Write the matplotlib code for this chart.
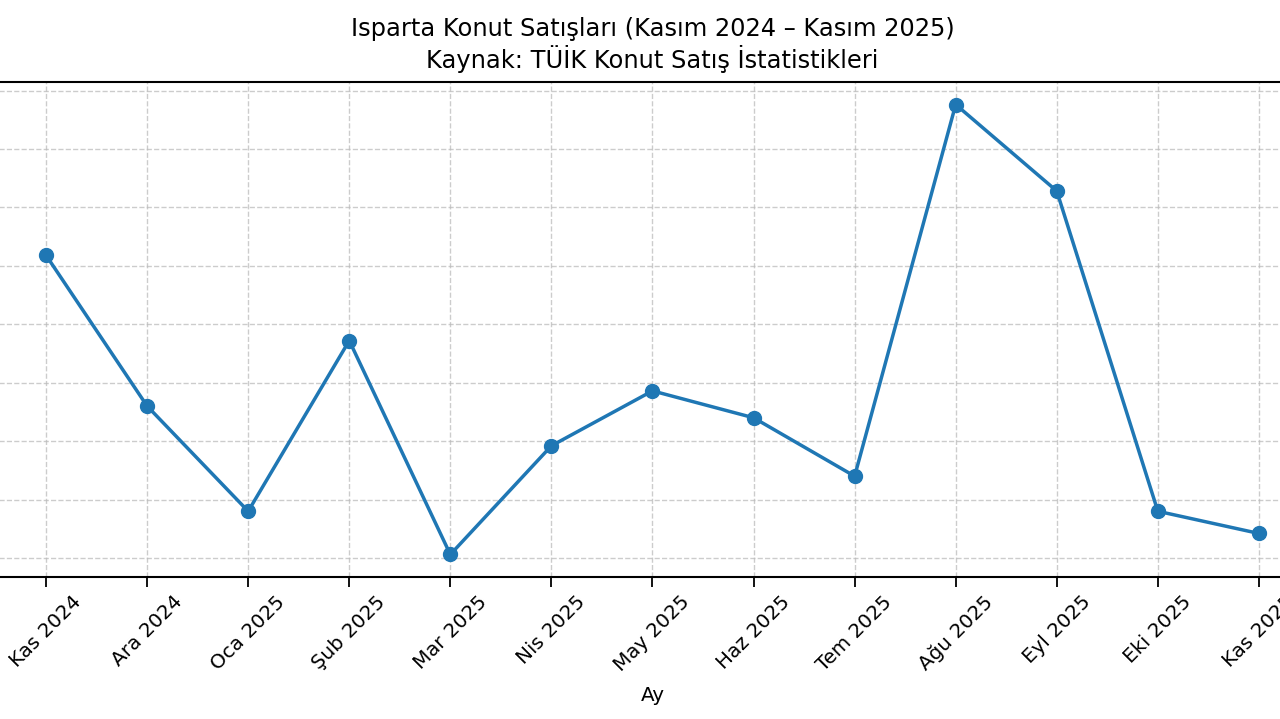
import matplotlib.pyplot as plt

months = ["Kas 2024", "Ara 2024", "Oca 2025", "Şub 2025", "Mar 2025", "Nis 2025",
          "May 2025", "Haz 2025", "Tem 2025", "Ağu 2025", "Eyl 2025", "Eki 2025", "Kas 2025"]
sales = [709, 580, 490, 636, 453, 546, 593, 570, 520, 838, 764, 490, 471]

fig = plt.figure(figsize=(12.8, 7.19), dpi=100)
# the reference is cropped: the axes run past both edges of the picture
ax = fig.add_axes([-0.0114, 0.1975, 1.0423, 0.6884])

ax.plot(range(len(months)), sales, marker='o', linewidth=2.5, markersize=10, color='#1f77b4')
ax.set_xticks(range(len(months)))
ax.set_xticklabels(months, rotation=45, fontsize=14.3)
ax.tick_params(axis='x', length=7, width=1.3, pad=4)
ax.tick_params(axis='y', labelleft=False, left=False)
ax.grid(True, linestyle='--', color='#bbbbbb', alpha=0.75, linewidth=1)
for s in ax.spines.values():
    s.set_linewidth(1.5)
ax.set_xlabel("Ay", fontsize=14.3, labelpad=8)
ax.set_title("Isparta Konut Satışları (Kasım 2024 – Kasım 2025)\nKaynak: TÜİK Konut Satış İstatistikleri",
             fontsize=17.4, pad=10, linespacing=1.2)

fig.savefig("out.png", dpi=100)
